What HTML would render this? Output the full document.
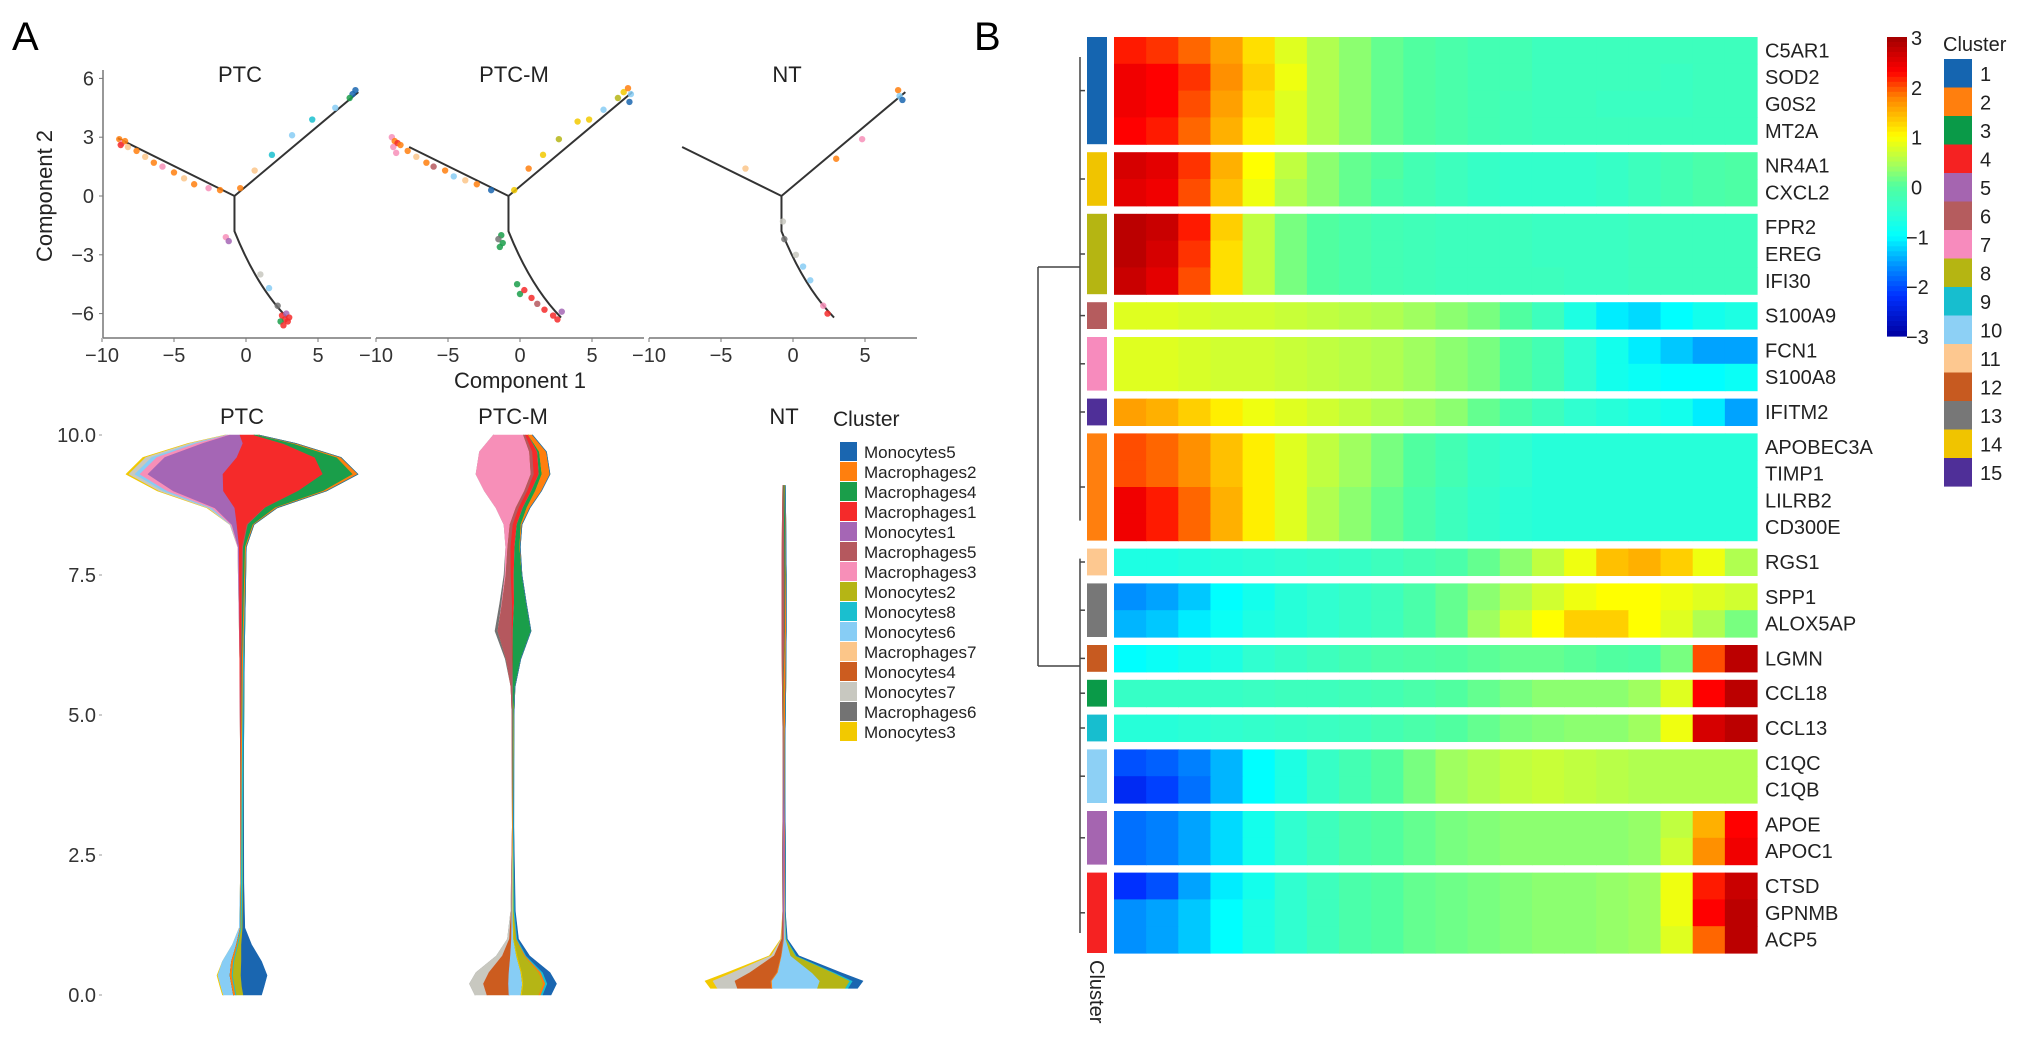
<!DOCTYPE html>
<html><head><meta charset="utf-8">
<style>
html,body{margin:0;padding:0;background:#fff;}
svg{display:block;font-family:"Liberation Sans",Arial,sans-serif;}
</style></head>
<body>
<svg id="fig" width="2032" height="1050" viewBox="0 0 2032 1050" xmlns="http://www.w3.org/2000/svg">
<text x="12" y="50" font-size="40">A</text>
<text x="974" y="50" font-size="40">B</text>
<g id="traj"></g>
<g id="viol"></g>
<g id="heat"></g>
</svg>
<script>
const NS="http://www.w3.org/2000/svg";
function mk(tag,attrs,parent,txt){const e=document.createElementNS(NS,tag);for(const k in attrs)e.setAttribute(k,attrs[k]);if(txt!==undefined)e.textContent=txt;parent.appendChild(e);return e;}

// ---------- Trajectory data ----------
const facetNames=["PTC","PTC-M","NT"];
const xTicks=[-10,-5,0,5];
const yTicks=[-6,-3,0,3,6];
const clusterNames=["Monocytes5","Macrophages2","Macrophages4","Macrophages1","Monocytes1","Macrophages5","Macrophages3","Monocytes2","Monocytes8","Monocytes6","Macrophages7","Monocytes4","Monocytes7","Macrophages6","Monocytes3"];
const clusterColors=["#1a66b0","#ff7f0e","#1a9e4a","#f52a2a","#a566b5","#b5585e","#f78fb8","#b5b515","#1abfcf","#87cdf5","#fcc689","#cc5c1f","#c8c8c0","#737373","#f2c900"];
const treeLeft=[[-8.9,2.95],[-7.7,2.5],[-7.7,2.5]];
const treeRight=[7.8,5.3];
const treeBranch=[-0.8,0.0];
const treeBend=[-0.8,-1.8];
const treeBottom=[2.85,-6.2];
const ptsPTC=[[-8.8,2.9,1],[-8.6,2.7,6],[-8.4,2.8,1],[-8.7,2.6,3],[-8.2,2.5,10],[-7.6,2.3,1],[-7.0,2.0,10],[-6.4,1.7,1],[-5.8,1.5,6],[-5.0,1.2,1],[-4.3,0.9,10],[-3.6,0.6,1],[-2.6,0.4,6],[-1.8,0.3,1],[-0.4,0.4,1],[0.6,1.3,10],[1.8,2.1,8],[3.2,3.1,9],[4.6,3.9,8],[6.2,4.5,9],[7.4,5.2,0],[7.6,5.4,0],[7.2,5.0,2],[-1.4,-2.1,6],[-1.2,-2.3,4],[1.0,-4.0,12],[1.6,-4.7,9],[2.2,-5.6,13],[2.5,-6.1,3],[2.7,-6.3,3],[2.9,-6.4,3],[2.4,-6.4,2],[2.8,-6.0,4],[3.0,-6.2,3],[2.6,-6.6,3]];
const ptsPTCM=[[-8.9,3.0,6],[-8.7,2.8,1],[-8.8,2.5,6],[-8.5,2.7,3],[-8.3,2.6,1],[-8.6,2.2,6],[-7.8,2.3,1],[-7.2,2.0,10],[-6.5,1.7,1],[-6.0,1.5,5],[-5.2,1.3,1],[-4.6,1.0,9],[-3.8,0.8,10],[-3.0,0.6,1],[-2.0,0.3,0],[-0.4,0.3,14],[0.6,1.4,1],[1.6,2.1,14],[2.7,2.9,7],[4.0,3.8,14],[4.8,3.9,14],[5.8,4.4,9],[6.8,5.0,7],[7.2,5.3,14],[7.5,5.5,1],[7.7,5.2,9],[7.6,4.8,0],[-1.3,-2.0,2],[-1.5,-2.2,13],[-1.2,-2.4,2],[-1.4,-2.6,2],[-0.2,-4.5,2],[0.0,-5.0,2],[0.3,-4.8,3],[0.8,-5.2,3],[1.2,-5.5,5],[1.7,-5.8,3],[2.3,-6.1,3],[2.6,-6.3,3],[2.9,-5.9,4]];
const ptsNT=[[7.3,5.4,1],[7.4,5.1,9],[7.6,4.9,0],[4.8,2.9,6],[3.0,1.9,1],[-3.3,1.4,10],[-0.7,-1.3,12],[-0.6,-2.2,13],[0.2,-3.0,12],[0.7,-3.6,9],[1.2,-4.3,9],[2.1,-5.6,6],[2.4,-6.0,3]];
const allPts=[ptsPTC,ptsPTCM,ptsNT];

const T=document.getElementById('traj');
const facetX0=[246,520,793];
const facetLeft=[103,376,649];
const facetW=268;
const xs=14.4, ys=19.6, y0=196;
function tx(f,v){return facetX0[f]+v*xs;}
function ty(v){return y0-v*ys;}
const yax=mk('line',{x1:103,y1:70,x2:103,y2:338,stroke:'#777','stroke-width':1.5},T);


for(const t of yTicks){
  const g=mk('text',{x:94,y:ty(t)+7,'font-size':20,'text-anchor':'end',fill:'#333'},T,String(t).replace('-','\u2212'));
  
  
  mk('line',{x1:99,y1:ty(t),x2:103,y2:ty(t),stroke:'#777'},T);
}
const yt=mk('text',{x:0,y:0,'font-size':22,'text-anchor':'middle',fill:'#222',transform:'translate(52,196) rotate(-90)'},T,'Component 2');


const xt=mk('text',{x:520,y:388,'font-size':22,'text-anchor':'middle',fill:'#222'},T,'Component 1');


for(let f=0;f<3;f++){
  const g=mk('g',{},T);
  
  
  const ttl=mk('text',{x:facetX0[f]-6,y:82,'font-size':22,'text-anchor':'middle',fill:'#222'},g,facetNames[f]);
  
  
  mk('line',{x1:facetLeft[f],y1:338,x2:facetLeft[f]+facetW,y2:338,stroke:'#777','stroke-width':1.5},g);
  for(const t of xTicks){
    mk('line',{x1:tx(f,t),y1:338,x2:tx(f,t),y2:342,stroke:'#777'},g);
    const l=mk('text',{x:tx(f,t),y:362,'font-size':20,'text-anchor':'middle',fill:'#333'},g,String(t).replace('-','\u2212'));
    
    
  }
  const L=treeLeft[f];
  const tree=mk('path',{d:`M${tx(f,L[0])},${ty(L[1])} L${tx(f,treeBranch[0])},${ty(treeBranch[1])} L${tx(f,treeRight[0])},${ty(treeRight[1])} M${tx(f,treeBranch[0])},${ty(treeBranch[1])} L${tx(f,treeBend[0])},${ty(treeBend[1])} Q${tx(f,(treeBend[0]+treeBottom[0])/2-0.3)},${ty((treeBend[1]+treeBottom[1])/2-0.6)} ${tx(f,treeBottom[0])},${ty(treeBottom[1])}`,fill:'none',stroke:'#333','stroke-width':2},g);
  
  
  for(const p of allPts[f]){
    const c=mk('circle',{cx:tx(f,p[0]),cy:ty(p[1]),r:3.2,fill:clusterColors[p[2]],opacity:0.85},g);
    
    
  }
}

// ---------- Violin data ----------
const vTicks=[0,2.5,5,7.5,10];
const levPTC=[10,9.85,9.6,9.3,9.0,8.7,8.4,8.0,6,4,2,1.2,0.9,0.6,0.35,0.15,0];
const layPTC=[
[14,[1,2,3,3,2,1,0,0,0,0,0,0,0,0,1,1,1]],
[12,[1,4,6,6,4,2,0.5,0,0,0,0,0,0,0,0,0,0]],
[9,[1,3,5,5,4,2,0.5,0,0,0,0.5,1,4,9,12,11,10]],
[6,[2,6,8,8,6,3,1,0.5,0,0,0,0,0,0,0,0,0]],
[4,[10,40,72,75,50,20,5,1,0,0,0,0,0,0,0,0,0]],
[3,[14,40,78,100,75,30,10,3,1,0,0,0,0,0,0,0,0]],
[5,[0,0,0,0,0,0.5,1,1,1,0.5,0,0,0,0,0,0,0]],
[2,[4,10,22,30,25,10,5,2,0.5,0,0,0,0,0,0,0,0]],
[1,[1,3,4,5,3,2,1,1,1,1,0.5,0.5,1,2,2,2,2]],
[8,[0,0,0,0,0,0,0,0,1,1.5,1.5,1,1,1,1,1,1]],
[7,[0,0,0,0,0,0,0,0,0,0,0.5,1,3,7,8,7,7]],
[0,[0,0,0,0,0,0,0,0,0,0,0.5,2,10,20,26,22,18]]];
const levPTCM=[10,9.7,9.3,9.0,8.7,8.4,8.0,7.5,7.0,6.5,6.0,5.5,5,3,1.5,1.0,0.7,0.4,0.2,0];
const layPTCM=[
[13,[0,0,0,0,0,0,0,1,2,3,1,0,0,0,0,0,0,0,0,0]],
[12,[0,0,0,0,0,0,0,0,0,0,0,0,0,0,0.5,2,6,13,14,12]],
[6,[30,50,55,40,20,6,2,1,0.5,0,0,0,0,0,0,0,0,0,0,0]],
[11,[0,0,0,0,0,0,0,0,0,0,0,0,0,0,0.5,2,8,20,25,22]],
[5,[2,3,3,3,3,3,3,5,10,14,6,2,1,0.5,0,0,0,0,0,0]],
[3,[3,5,5,4,4,4,4,3,2,1,0.5,0,0,0,0,0,0,0,0,0]],
[9,[0,0,0,0,0,0,0,0,0,0,0,0,0,0,1,2,6,12,14,12]],
[2,[0,2,3,4,4,4,5,8,12,18,8,2,0.5,0,0,0,0,0,0,0]],
[14,[0,0,0,0,0,0,0,0,0,0,0,0,0.5,0.5,0.5,0.5,1,1,1,1]],
[7,[0,0,0,0,0,0,0,0,0,0,0,0,0,0,0.5,2,7,17,20,17]],
[1,[4,7,8,6,3,1,0.5,0,0,0,0,0,0,0,0,0.5,1,2,2,2]],
[8,[0,0,0,0,0,0,0,0,0,0,0,0,0,0.5,1,1,1,2,2,2]],
[0,[0,0,0,0,0,0,0,0,0,0,0,0,0,0,0.5,1,3,7,9,8]]];
const levNT=[9.1,8.5,7.5,6.5,5.5,4.5,3.5,2.5,1.5,1.0,0.7,0.4,0.25,0.12];
const layNT=[
[14,[0,0,0,0,0,0,0,0,0,0.5,2,6,8,7]],
[12,[0,0,0,0,0,0,0,0,0,0.5,3,17,22,20]],
[11,[0,0,0,0,0,0,0,0,0,1,7,27,36,34]],
[5,[1,2,3,3,1,0.5,0.5,0.5,0.5,0.5,0,0,0,0]],
[2,[1,1,1,0.5,0.5,0,0,0,0,0,0,0,0,0]],
[4,[0,0,0,0,0,0.5,1,2,1,0.5,0,0,0,0]],
[1,[0.5,0.5,0.5,1,2,1,0.5,0.5,0.5,0.5,0.5,1,1,1]],
[9,[0,0,0,0,0,0,0,0,0.5,1.5,9,34,48,45]],
[7,[0,0,0,0,0,0,0,0,0,0.5,5,21,30,28]],
[8,[0,0,0,0,0,0,0,0,0,0.5,1,2,3,3]],
[0,[0,0,0,0,0,0,0,0,0,0.5,2,6,10,9]]];
const violins=[[levPTC,layPTC],[levPTCM,layPTCM],[levNT,layNT]];
const vCenters=[242,513,784];
const V=document.getElementById('viol');
function vy(v){return 995-56*v;}
for(const t of vTicks){
  const l=mk('text',{x:96,y:vy(t)+7,'font-size':20,'text-anchor':'end',fill:'#333'},V,t.toFixed(1));
  
  
  mk('line',{x1:99,y1:vy(t),x2:102,y2:vy(t),stroke:'#999'},V);
}
for(let f=0;f<3;f++){
  const g=mk('g',{},V);
  
  
  const ttl=mk('text',{x:vCenters[f],y:424,'font-size':22,'text-anchor':'middle',fill:'#222'},g,facetNames[f]);
  
  
  const [lev,lay]=violins[f];
  const tot=lev.map((_,i)=>lay.reduce((s,l)=>s+l[1][i],0));
  const cum=lev.map(()=>0);
  for(const [ci,w] of lay){
    const leftPts=[],rightPts=[];
    for(let i=0;i<lev.length;i++){
      const x0=vCenters[f]-tot[i]/2+cum[i];
      leftPts.push([x0,vy(lev[i])]);
      rightPts.push([x0+w[i],vy(lev[i])]);
      cum[i]+=w[i];
    }
    const ptsStr=leftPts.concat(rightPts.reverse()).map(p=>p[0].toFixed(1)+','+p[1].toFixed(1)).join(' ');
    const poly=mk('polygon',{points:ptsStr,fill:clusterColors[ci],stroke:clusterColors[ci],'stroke-width':0.6,'stroke-linejoin':'round'},g);
    
    
  }
}
const lg=mk('g',{},V);


mk('text',{x:833,y:426,'font-size':21,fill:'#222'},lg,'Cluster');
clusterNames.forEach((n,i)=>{
  const e=mk('g',{},lg);
  
  
  mk('rect',{x:840,y:442+i*20,width:17,height:19,fill:clusterColors[i]},e);
  mk('text',{x:864,y:458+i*20,'font-size':17,fill:'#222'},e,n);
});

// ---------- Heatmap data ----------
const genes=["C5AR1","SOD2","G0S2","MT2A","NR4A1","CXCL2","FPR2","EREG","IFI30","S100A9","FCN1","S100A8","IFITM2","APOBEC3A","TIMP1","LILRB2","CD300E","RGS1","SPP1","ALOX5AP","LGMN","CCL18","CCL13","C1QC","C1QB","APOE","APOC1","CTSD","GPNMB","ACP5"];
const groupSizes=[4,2,3,1,2,1,4,1,2,1,1,1,2,2,3];
const groupClusters=[1,14,8,6,7,15,2,11,13,12,3,9,10,5,4];
const heatClusterColors=["#1565b0","#ff7f0e","#0a9a48","#f52222","#a565b0","#b55c5e","#f78bbd","#b5b512","#17becf","#8dd0f5","#fdc890","#c75a20","#777777","#f0c400","#4f2f98"];
const colorbarTicks=[3,2,1,0,-1,-2,-3];
const expr=[
[2.2,2.1,1.9,1.6,1.2,0.8,0.5,0.3,0.1,0,-0.1,-0.2,-0.2,-0.3,-0.3,-0.3,-0.3,-0.3,-0.3,-0.3],
[2.4,2.3,2.1,1.7,1.3,0.9,0.5,0.3,0.1,0,-0.1,-0.2,-0.2,-0.3,-0.3,-0.3,-0.3,-0.35,-0.3,-0.3],
[2.4,2.3,2.0,1.6,1.2,0.8,0.5,0.3,0.1,0,-0.1,-0.2,-0.25,-0.3,-0.3,-0.35,-0.35,-0.35,-0.3,-0.3],
[2.3,2.2,1.9,1.5,1.1,0.8,0.5,0.3,0.1,0,-0.1,-0.2,-0.25,-0.3,-0.3,-0.3,-0.3,-0.3,-0.3,-0.3],
[2.6,2.5,2.1,1.5,1.0,0.6,0.3,0.1,0,-0.2,-0.3,-0.4,-0.45,-0.45,-0.45,-0.4,-0.3,-0.2,-0.1,-0.05],
[2.5,2.4,2.0,1.4,0.9,0.5,0.3,0.1,-0.1,-0.2,-0.3,-0.4,-0.45,-0.45,-0.45,-0.4,-0.3,-0.2,-0.1,-0.05],
[2.8,2.7,2.2,1.3,0.6,0.2,0,-0.1,-0.2,-0.25,-0.3,-0.3,-0.3,-0.35,-0.35,-0.35,-0.3,-0.3,-0.3,-0.3],
[2.8,2.6,2.1,1.2,0.6,0.2,0,-0.1,-0.2,-0.25,-0.3,-0.3,-0.3,-0.35,-0.35,-0.35,-0.3,-0.3,-0.3,-0.3],
[2.7,2.5,2.0,1.2,0.6,0.2,0,-0.1,-0.2,-0.25,-0.3,-0.3,-0.3,-0.3,-0.35,-0.35,-0.3,-0.3,-0.3,-0.3],
[0.8,0.8,0.75,0.7,0.7,0.65,0.6,0.55,0.5,0.4,0.3,0.2,0,-0.3,-0.7,-1.1,-1.2,-1.0,-0.8,-0.7],
[0.8,0.8,0.75,0.7,0.7,0.65,0.6,0.55,0.5,0.4,0.3,0.2,0,-0.2,-0.5,-0.8,-1.1,-1.3,-1.5,-1.5],
[0.8,0.8,0.75,0.7,0.7,0.65,0.6,0.55,0.5,0.4,0.3,0.2,0,-0.2,-0.5,-0.8,-0.9,-1.0,-1.0,-0.9],
[1.6,1.5,1.3,1.1,0.9,0.8,0.7,0.6,0.5,0.4,0.3,0.1,-0.1,-0.3,-0.5,-0.6,-0.7,-0.8,-1.1,-1.5],
[2.0,1.9,1.7,1.4,1.1,0.8,0.6,0.4,0.2,0,-0.2,-0.4,-0.5,-0.6,-0.6,-0.6,-0.6,-0.6,-0.6,-0.6],
[2.0,1.9,1.7,1.4,1.1,0.8,0.6,0.4,0.2,0,-0.2,-0.4,-0.5,-0.6,-0.6,-0.6,-0.6,-0.6,-0.6,-0.6],
[2.4,2.2,1.9,1.5,1.1,0.8,0.5,0.3,0.1,-0.1,-0.3,-0.45,-0.55,-0.6,-0.6,-0.6,-0.6,-0.6,-0.6,-0.6],
[2.4,2.2,1.9,1.5,1.1,0.8,0.5,0.3,0.1,-0.1,-0.3,-0.45,-0.55,-0.6,-0.6,-0.6,-0.6,-0.6,-0.6,-0.6],
[-0.7,-0.7,-0.65,-0.6,-0.55,-0.5,-0.45,-0.4,-0.3,-0.2,-0.1,0.1,0.3,0.6,0.9,1.4,1.5,1.3,0.9,0.5],
[-1.6,-1.5,-1.3,-1.0,-0.8,-0.6,-0.5,-0.4,-0.3,-0.1,0.1,0.3,0.5,0.7,0.9,1.0,1.0,0.9,0.8,0.7],
[-1.4,-1.3,-1.1,-0.9,-0.7,-0.6,-0.5,-0.4,-0.3,-0.1,0.1,0.4,0.7,1.0,1.3,1.3,1.0,0.8,0.5,0.2],
[-1.0,-0.9,-0.8,-0.7,-0.5,-0.4,-0.3,-0.2,-0.1,-0.05,0,0.05,0.1,0.1,0.05,0,-0.05,0.2,2.0,2.8],
[-0.4,-0.4,-0.4,-0.4,-0.35,-0.3,-0.3,-0.25,-0.2,-0.1,0,0.1,0.2,0.3,0.3,0.3,0.4,0.8,2.3,2.8],
[-0.6,-0.6,-0.55,-0.5,-0.45,-0.4,-0.35,-0.3,-0.2,-0.1,0,0.1,0.2,0.25,0.3,0.3,0.4,0.9,2.6,2.8],
[-2.0,-1.9,-1.7,-1.4,-1.0,-0.7,-0.4,-0.2,0,0.2,0.4,0.5,0.6,0.65,0.6,0.55,0.5,0.5,0.5,0.5],
[-2.3,-2.1,-1.8,-1.4,-1.0,-0.7,-0.4,-0.2,0,0.2,0.4,0.5,0.6,0.65,0.6,0.55,0.5,0.5,0.5,0.5],
[-1.8,-1.7,-1.5,-1.2,-0.8,-0.5,-0.3,-0.1,0,0.1,0.2,0.25,0.3,0.3,0.3,0.3,0.35,0.6,1.5,2.3],
[-1.8,-1.7,-1.5,-1.2,-0.8,-0.5,-0.3,-0.1,0,0.1,0.2,0.25,0.3,0.3,0.3,0.3,0.35,0.7,1.7,2.4],
[-2.2,-2.0,-1.5,-1.1,-0.8,-0.5,-0.3,-0.1,0,0.1,0.15,0.2,0.25,0.3,0.3,0.35,0.4,0.9,2.2,2.7],
[-1.6,-1.5,-1.3,-1.0,-0.7,-0.5,-0.3,-0.1,0,0.1,0.15,0.2,0.25,0.3,0.3,0.35,0.4,0.9,2.3,2.8],
[-1.6,-1.5,-1.3,-1.0,-0.7,-0.5,-0.3,-0.1,0,0.1,0.15,0.2,0.25,0.3,0.3,0.35,0.4,0.8,1.9,2.8]];

const cmapVals=[-3,-2.2,-1.6,-1.0,-0.5,0,0.4,1.0,1.8,2.3,3];
const cmapCols=[[0,0,160],[0,48,255],[0,144,255],[0,255,255],[48,255,208],[80,255,160],[160,255,96],[255,255,0],[255,128,0],[255,0,0],[160,0,0]];
function jet(v){
  v=Math.max(-3,Math.min(3,v));
  let i=0;while(i<cmapVals.length-2&&v>cmapVals[i+1])i++;
  const t=(v-cmapVals[i])/(cmapVals[i+1]-cmapVals[i]);
  const a=cmapCols[i],b=cmapCols[i+1];
  return `rgb(${Math.round(a[0]+(b[0]-a[0])*t)},${Math.round(a[1]+(b[1]-a[1])*t)},${Math.round(a[2]+(b[2]-a[2])*t)})`;
}
const H=document.getElementById('heat');
const hx0=1114,hx1=1757,hy0=37,rowH=26.8,gapH=8;
const ncol=expr[0].length, colW=(hx1-hx0)/ncol;
let row=0,yy=hy0;
const groupBounds=[];
groupSizes.forEach((n,gi)=>{
  const gy=yy;
  for(let k=0;k<n;k++){
    const r=row+k, ry=yy+k*rowH;
    for(let c=0;c<ncol;c++){
      const cell=mk('rect',{x:(hx0+c*colW).toFixed(2),y:ry.toFixed(2),width:(colW+0.6).toFixed(2),height:(rowH+0.6).toFixed(2),fill:jet(expr[r][c])},H);
      
      
    }
    const lab=mk('text',{x:hx1+8,y:ry+rowH/2+7,'font-size':20,fill:'#222'},H,genes[r]);
    
    
  }
  const bar=mk('rect',{x:1087,y:gy,width:20,height:n*rowH,fill:heatClusterColors[groupClusters[gi]-1]},H);
  
  
  groupBounds.push([gy,gy+n*rowH]);
  row+=n; yy+=n*rowH+gapH;
});
const cl=mk('text',{x:0,y:0,'font-size':20,fill:'#222',transform:'translate(1090,960) rotate(90)'},H,'Cluster');


const dg=mk('g',{stroke:'#444','stroke-width':1.5,fill:'none'},H);


const upMid=267, loMid=666;
mk('path',{d:`M1038,${upMid} L1038,${loMid} M1038,${upMid} L1080,${upMid} M1038,${loMid} L1080,${loMid}`},dg);
mk('path',{d:`M1080,${groupBounds[0][0]+20} L1080,${groupBounds[6][1]-20} M1080,${groupBounds[7][0]+10} L1080,${groupBounds[14][1]-20}`},dg);
groupBounds.forEach(b=>{const m=(b[0]+b[1])/2;mk('line',{x1:1080,y1:m,x2:1085,y2:m},dg);});
const cb=mk('g',{},H);


const cbTop=37,cbBot=336,cbN=60;
for(let i=0;i<cbN;i++){
  const v=3-6*(i+0.5)/cbN;
  mk('rect',{x:1887,y:(cbTop+i*(cbBot-cbTop)/cbN).toFixed(2),width:20,height:((cbBot-cbTop)/cbN+0.6).toFixed(2),fill:jet(v)},cb);
}
for(const t of colorbarTicks){
  const y=cbTop+(3-t)/6*(cbBot-cbTop);
  mk('text',{x:t<0?1906:1911,y:y+8,'font-size':20,fill:'#222'},cb,String(t).replace('-','\u2212'));
}
const cl2=mk('g',{},H);


mk('text',{x:1943,y:51,'font-size':20,fill:'#222'},cl2,'Cluster');
heatClusterColors.forEach((c,i)=>{
  mk('rect',{x:1944,y:59+i*28.5,width:28,height:28.6,fill:c},cl2);
  mk('text',{x:1980,y:59+i*28.5+22,'font-size':20,fill:'#222'},cl2,String(i+1));
});
</script>
</body></html>
